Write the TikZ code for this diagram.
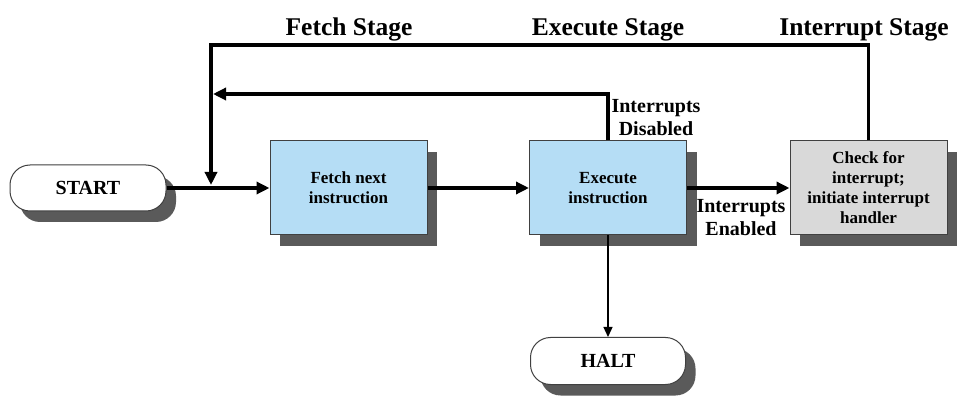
\documentclass[tikz,border=0pt]{standalone}
\usepackage{fontspec}
\setmainfont{Liberation Serif}
\usetikzlibrary{arrows.meta,shadows}
\definecolor{boxblue}{RGB}{181,221,245}
\definecolor{boxgray}{RGB}{217,217,217}
\definecolor{shadowgray}{RGB}{90,90,90}
\begin{document}
\begin{tikzpicture}[x=1pt,y=-1pt,
  shad/.style={drop shadow={shadow xshift=10pt,shadow yshift=-11pt,fill=shadowgray,opacity=1}},
  box/.style={draw=black!75,line width=1pt,fill=boxblue,minimum width=157pt,minimum height=94pt,
    inner sep=0pt,align=center,font=\fontsize{17}{20}\selectfont\bfseries,shad},
  term/.style={draw=black!75,line width=1pt,fill=white,rounded corners=20pt,minimum width=156pt,
    minimum height=46pt,inner sep=0pt,font=\fontsize{20}{24}\selectfont\bfseries,shad},
  flow/.style={line width=3.5pt,-{Triangle[length=13pt,width=12pt]}},
  thin/.style={line width=1.3pt,-{Triangle[length=10pt,width=9pt]}},
  stage/.style={anchor=base,inner sep=0pt,font=\fontsize{25.5}{30}\selectfont\bfseries},
  lbl/.style={anchor=north,inner sep=0pt,align=center,font=\fontsize{20}{23}\selectfont\bfseries}]
\useasboundingbox (0,0) rectangle (970,414);
\node[term] (start) at (88,188) {START};
\node[box] (fetch) at (348.5,188) {Fetch next\\instruction};
\node[box] (exec) at (608,188) {Execute\\instruction};
\node[box,fill=boxgray] (check) at (868.5,188) {Check for\\interrupt;\\initiate interrupt\\handler};
\node[term,minimum width=155pt,minimum height=47pt] (halt) at (608,361) {HALT};
\node[stage] (fs) at (349,36) {Fetch Stage};
\node[stage] (es) at (608,36) {Execute Stage};
\node[stage] (is) at (864,36) {Interrupt Stage};
\node[lbl] (dis) at (656,99) {Interrupts\\Disabled};
\node[lbl] (ena) at (741,199) {Interrupts\\Enabled};
\coordinate (top) at (211,45);
\coordinate (join) at (211,185);
\coordinate (inner) at (213,94);
\draw[flow] (start.east) -- (fetch.west);
\draw[flow] (fetch.east) -- (exec.west);
\draw[flow] (exec.east) -- (check.west);
\draw[flow] (check.north) |- (top) -- (join);
\draw[flow] (exec.north) |- (inner);
\draw[thin] (exec.south) -- (halt.north);
\end{tikzpicture}
\end{document}
